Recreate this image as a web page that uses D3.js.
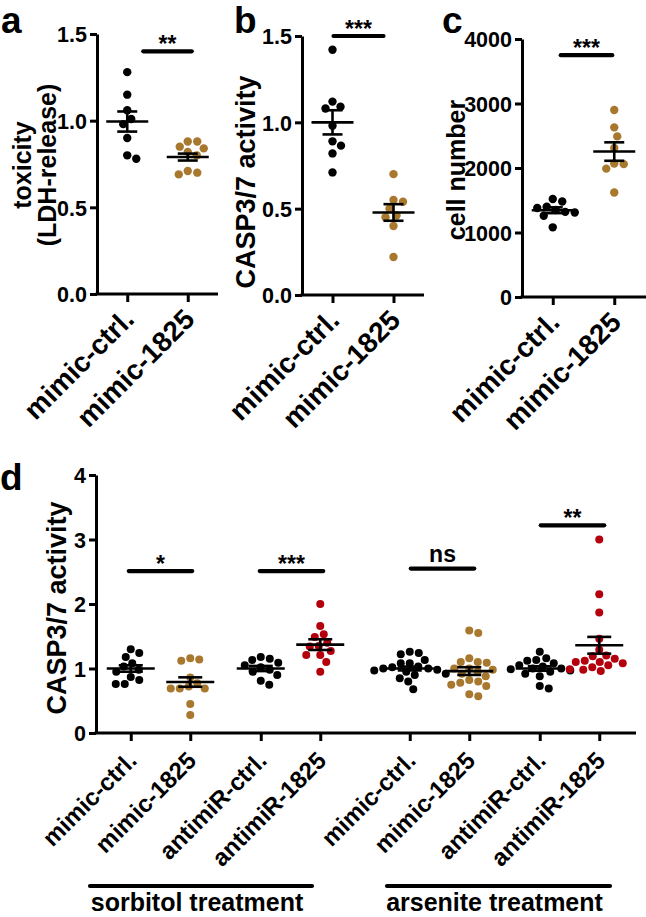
<!DOCTYPE html>
<html><head><meta charset="utf-8">
<script src="https://cdn.jsdelivr.net/npm/d3@7"></script>
<style>
body{margin:0;background:#fff}
svg text{font-family:"Liberation Sans",Arial,Helvetica,sans-serif;font-weight:bold;fill:#000}
</style>
</head><body>
<svg id="chart" width="646" height="917"></svg>
<script>
// ---------- DATA ----------
const abcCategories = ["mimic-ctrl.", "mimic-1825"];

// panel a: toxicity (LDH-release)
const aCtrl  = [1.28, 1.15, 1.06, 1.01, 0.98, 0.90, 0.78, 0.80];
const aMimic = [0.88, 0.88, 0.84, 0.85, 0.82, 0.80, 0.71, 0.69, 0.70];
const aMean = [0.995, 0.79];
const aSem  = [0.058, 0.02];
const aTicks = [0, 0.5, 1.0, 1.5];

// panel b: CASP3/7 activity
const bCtrl  = [1.42, 1.12, 1.09, 1.08, 0.98, 0.89, 0.865, 0.82, 0.71];
const bMimic = [0.70, 0.55, 0.54, 0.50, 0.46, 0.45, 0.40, 0.22];
const bMean = [1.0, 0.478];
const bSem  = [0.07, 0.048];
const bTicks = [0, 0.5, 1.0, 1.5];

// panel c: cell number
const cCtrl  = [1520, 1480, 1400, 1380, 1350, 1320, 1310, 1260, 1080];
const cMimic = [2900, 2630, 2490, 2310, 2070, 2060, 1990, 1620];
const cMean = [1345, 2255];
const cSem  = [45, 143];
const cTicks = [0, 1000, 2000, 3000, 4000];

// panel d: CASP3/7 activity, 8 groups
const dTreatments = ["sorbitol treatment", "arsenite treatment"];
const dCategories = ["mimic-ctrl.", "mimic-1825", "antimiR-ctrl.", "antimiR-1825"];
const dSorbMimicCtrl    = [1.30, 1.18, 1.24, 1.08, 1.03, 0.98, 0.95, 0.82, 0.87, 0.76, 0.76];
const dSorbMimic1825    = [1.16, 1.12, 1.14, 0.86, 0.77, 0.72, 0.69, 0.69, 0.69, 0.45, 0.28];
const dSorbAntimirCtrl  = [1.18, 1.13, 1.15, 1.09, 1.05, 1.02, 0.98, 0.95, 0.90, 0.81, 0.75];
const dSorbAntimir1825  = [2.0, 1.66, 1.53, 1.49, 1.40, 1.34, 1.27, 1.21, 1.21, 1.10, 0.95, 1.35];
const dArsMimicCtrl     = [1.26, 1.24, 1.22, 1.13, 1.08, 1.08, 1.03, 1.02, 1.00, 1.00, 0.98, 0.97, 0.95, 0.92, 0.90, 0.85, 0.80, 0.68];
const dArsMimic1825     = [1.59, 1.55, 1.16, 1.10, 1.09, 1.10, 1.0, 0.98, 1.0, 0.95, 0.88, 0.82, 0.80, 0.78, 0.73, 0.75, 0.60, 0.57, 0.92];
const dArsAntimirCtrl   = [1.26, 1.16, 1.13, 1.12, 1.08, 1.03, 1.0, 1.0, 0.99, 0.97, 0.95, 0.92, 0.88, 1.05, 0.73, 0.69];
const dArsAntimir1825   = [3.0, 2.15, 1.87, 1.46, 1.29, 1.20, 1.19, 1.15, 1.10, 1.10, 1.08, 1.05, 1.02, 0.99, 0.98, 0.96, 1.12];
const dMean = [1.0, 0.79, 1.0, 1.37, 1.0, 0.96, 1.0, 1.36];
const dSem  = [0.05, 0.073, 0.04, 0.083, 0.03, 0.06, 0.035, 0.13];
const dTicks = [0, 1, 2, 3, 4];

// significance annotations
const aSig = [{from: 0, to: 1, value: 1.40, label: "**"}];
const bSig = [{from: 0, to: 1, value: 1.50, label: "***"}];
const cSig = [{from: 0, to: 1, value: 3750, label: "***"}];
const dSig = [
  {from: 0, to: 1, value: 2.51, label: "*"},
  {from: 2, to: 3, value: 2.51, label: "***"},
  {from: 4, to: 5, value: 2.55, label: "ns"},
  {from: 6, to: 7, value: 3.22, label: "**"}
];

// ---------- STYLE ----------
const BLACK = "#000000", BROWN = "#a8782f", RED = "#b3000c";
const svg = d3.select("#chart");

function swarm(vals, y, D) {
  const pts = vals.map(v => ({v, py: y(v)})).sort((a, b) => a.py - b.py);
  const placed = [];
  for (const p of pts) {
    let dx = 0;
    for (let k = 0; k < 400; k++) {
      const cand = k === 0 ? 0 : (k % 2 ? 1 : -1) * Math.ceil(k / 2) * 0.5;
      if (placed.every(q => (q.dx - cand) ** 2 + (q.py - p.py) ** 2 >= D * D)) { dx = cand; break; }
    }
    p.dx = dx; placed.push(p);
  }
  return placed;
}

function drawPanel(cfg) {
  const g = svg.append("g");
  const y = d3.scaleLinear().domain(cfg.domain).range([cfg.yBot, cfg.yTop]);
  const keys = cfg.groups.map((d, i) => "g" + i);
  const x = d3.scaleOrdinal().domain(keys).range(cfg.xs);

  // dots
  cfg.groups.forEach((grp, i) => {
    const pts = swarm(grp.vals, y, cfg.D);
    g.append("g").selectAll("circle").data(pts).join("circle")
      .attr("cx", d => x(keys[i]) + d.dx)
      .attr("cy", d => d.py)
      .attr("r", cfg.r)
      .attr("fill", grp.color);
  });
  // mean + SEM
  cfg.groups.forEach((grp, i) => {
    const cx = x(keys[i]);
    const mg = g.append("g").attr("stroke", "#000").attr("stroke-width", 2.6).attr("fill", "none");
    mg.append("line").attr("x1", cx - cfg.meanHW).attr("x2", cx + cfg.meanHW)
      .attr("y1", y(grp.mean)).attr("y2", y(grp.mean));
    mg.append("line").attr("x1", cx).attr("x2", cx)
      .attr("y1", y(grp.mean - grp.sem)).attr("y2", y(grp.mean + grp.sem));
    [grp.mean - grp.sem, grp.mean + grp.sem].forEach(v => {
      mg.append("line").attr("x1", cx - cfg.capHW).attr("x2", cx + cfg.capHW)
        .attr("y1", y(v)).attr("y2", y(v));
    });
  });

  // y axis
  const ya = g.append("g").attr("transform", `translate(${cfg.axisX},0)`)
    .call(d3.axisLeft(y).tickValues(cfg.ticks).tickFormat(d3.format(cfg.fmt))
      .tickSize(7).tickPadding(3).tickSizeOuter(0));
  ya.select(".domain").attr("stroke-width", 3);
  ya.selectAll(".tick line").attr("stroke-width", 3);
  ya.selectAll(".tick text").attr("font-size", 21.5).attr("font-family", null).attr("dy", "0.36em");

  // x axis
  const xa = g.append("g").attr("transform", `translate(0,${cfg.yBot})`)
    .call(d3.axisBottom(x).tickSize(8).tickSizeOuter(0).tickFormat((d, i) => cfg.labels[i]));
  xa.select(".domain").remove();
  xa.append("line").attr("x1", cfg.axisX - 1.5).attr("x2", cfg.axisEnd).attr("stroke", "#000").attr("stroke-width", 3);
  xa.selectAll(".tick line").attr("stroke-width", 3);
  xa.selectAll(".tick text").attr("font-size", cfg.lblSize).attr("font-family", null)
    .attr("x", 0).attr("y", 0).attr("dy", null).attr("text-anchor", "end")
    .attr("transform", `translate(${cfg.lblDX},${cfg.lblDY}) rotate(-45)`);

  // y title
  cfg.title.forEach((t, i) => {
    g.append("text").attr("font-size", cfg.titleSize).attr("text-anchor", "middle")
      .attr("transform", `translate(${cfg.titleX[i]},${cfg.titleY}) rotate(-90)`).text(t);
  });
  // panel letter
  g.append("text").attr("font-size", 37).attr("x", cfg.letterX).attr("y", cfg.letterY).text(cfg.letter);

  // significance bars
  cfg.sig.forEach((s, i) => {
    const x1 = x(keys[s.from]) + cfg.sigOff[i][0], x2 = x(keys[s.to]) + cfg.sigOff[i][1];
    const yy = y(s.value);
    g.append("line").attr("x1", x1).attr("x2", x2).attr("y1", yy).attr("y2", yy)
      .attr("stroke", "#000").attr("stroke-width", 4.2).attr("stroke-linecap", "round");
    const ns = s.label === "ns";
    g.append("text").attr("x", (x1 + x2) / 2).attr("y", ns ? yy - 7 : yy + 1)
      .attr("text-anchor", "middle").attr("font-size", 23).text(s.label);
  });
  return {x, y};
}

const abcLbl = {lblDX: 8, lblDY: 27, lblSize: 28};
const abcX = (lo, hi) => abcCategories.map(c => d3.scalePoint().domain(abcCategories).range([lo, hi]).padding(0.5)(c));

drawPanel(Object.assign({
  letter: "a", letterX: 1, letterY: 33,
  domain: [0, 1.5], yTop: 34, yBot: 294, axisX: 97, axisEnd: 218,
  xs: abcX(97, 218),
  ticks: aTicks, fmt: ".1f", labels: abcCategories,
  groups: [
    {vals: aCtrl, color: BLACK, mean: aMean[0], sem: aSem[0]},
    {vals: aMimic, color: BROWN, mean: aMean[1], sem: aSem[1]}
  ],
  r: 4.2, D: 9.5, meanHW: 21, capHW: 10,
  title: ["toxicity", "(LDH-release)"], titleX: [31, 56], titleY: 165, titleSize: 25,
  sig: aSig, sigOff: [[16, 4]]
}, abcLbl));

drawPanel(Object.assign({
  letter: "b", letterX: 234, letterY: 33,
  domain: [0, 1.5], yTop: 36, yBot: 295, axisX: 302, axisEnd: 424,
  xs: abcX(302, 424),
  ticks: bTicks, fmt: ".1f", labels: abcCategories,
  groups: [
    {vals: bCtrl, color: BLACK, mean: bMean[0], sem: bSem[0]},
    {vals: bMimic, color: BROWN, mean: bMean[1], sem: bSem[1]}
  ],
  r: 4.2, D: 9.5, meanHW: 21, capHW: 10,
  title: ["CASP3/7 activity"], titleX: [255], titleY: 182, titleSize: 27,
  sig: bSig, sigOff: [[1, -10]]
}, abcLbl));

drawPanel(Object.assign({
  letter: "c", letterX: 442, letterY: 33,
  domain: [0, 4000], yTop: 39, yBot: 297, axisX: 522, axisEnd: 646,
  xs: abcX(522, 645),
  ticks: cTicks, fmt: "d", labels: abcCategories,
  groups: [
    {vals: cCtrl, color: BLACK, mean: cMean[0], sem: cSem[0]},
    {vals: cMimic, color: BROWN, mean: cMean[1], sem: cSem[1]}
  ],
  r: 4.2, D: 9.5, meanHW: 21, capHW: 10,
  title: ["cell number"], titleX: [465], titleY: 170, titleSize: 25,
  sig: cSig, sigOff: [[8, -2]]
}, abcLbl));

// panel d positions via nested point scales
const outer = d3.scalePoint().domain(dTreatments).range([225.5, 504.5]);
const pair = d3.scalePoint().domain(["mimic", "antimiR"]).range([-65, 65]);
const within = d3.scalePoint().domain(["ctrl", "1825"]).range([-29.75, 29.75]);
const dXs = [];
dTreatments.forEach(t => ["mimic", "antimiR"].forEach(p => ["ctrl", "1825"].forEach(w => dXs.push(outer(t) + pair(p) + within(w)))));
const dVals = [dSorbMimicCtrl, dSorbMimic1825, dSorbAntimirCtrl, dSorbAntimir1825,
               dArsMimicCtrl, dArsMimic1825, dArsAntimirCtrl, dArsAntimir1825];
const dColors = [BLACK, BROWN, BLACK, RED, BLACK, BROWN, BLACK, RED];

drawPanel({
  letter: "d", letterX: 0, letterY: 490,
  domain: [0, 4], yTop: 475, yBot: 733, axisX: 96, axisEnd: 636,
  xs: dXs, ticks: dTicks, fmt: "d",
  labels: dXs.map((_, i) => dCategories[i % 4]),
  groups: dVals.map((v, i) => ({vals: v, color: dColors[i], mean: dMean[i], sem: dSem[i]})),
  r: 4.0, D: 9, meanHW: 24, capHW: 12,
  title: ["CASP3/7 activity"], titleX: [66], titleY: 608, titleSize: 27,
  sig: dSig, sigOff: [[-2, 2], [-1, 3], [1, 5], [1, 5]],
  lblDX: 7, lblDY: 29, lblSize: 24
});

// treatment group bars
const tExt = [[90, 312], [387, 610]];
dTreatments.forEach((t, i) => {
  svg.append("line").attr("x1", tExt[i][0]).attr("x2", tExt[i][1]).attr("y1", 886).attr("y2", 886)
    .attr("stroke", "#000").attr("stroke-width", 4.2).attr("stroke-linecap", "round");
  svg.append("text").attr("x", (tExt[i][0] + tExt[i][1]) / 2 - 4).attr("y", 911)
    .attr("text-anchor", "middle").attr("font-size", 25).text(t);
});
</script>
</body></html>
